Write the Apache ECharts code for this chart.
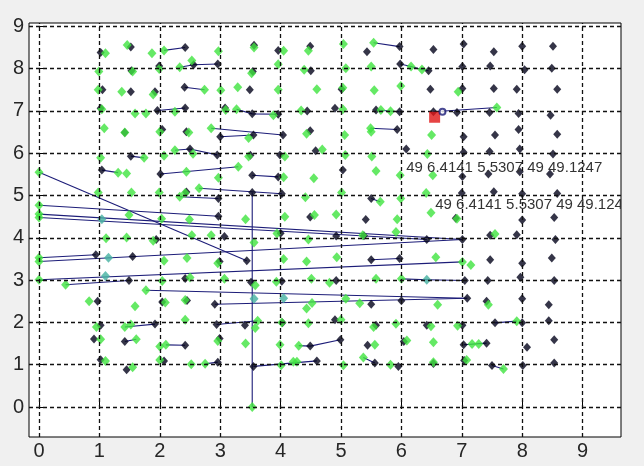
<!DOCTYPE html>
<html><head><meta charset="utf-8">
<script src="https://cdn.jsdelivr.net/npm/echarts@6/dist/echarts.min.js"></script>
<style>html,body{margin:0;padding:0;background:#f0f0f0;}#c{width:644px;height:466px;}</style>
</head><body><div id="c"></div>
<script>
var xTicks = [0,1,2,3,4,5,6,7,8,9];
var yTicks = [0,1,2,3,4,5,6,7,8,9];

var blackPoints = [
 [1.02,8.38],[1.52,8.51],[2.42,8.50],[3.56,8.55],[3.96,8.43],[4.49,8.53],[5.43,8.40],[5.97,8.52],[6.53,8.45],[7.03,8.58],[7.53,8.40],[8.0,8.53],[8.51,8.53],
 [1.53,7.95],[1.99,8.06],[2.56,8.09],[2.96,8.11],[3.54,7.93],[4.50,7.95],[5.98,8.11],[6.45,7.95],[7.01,8.05],[7.47,8.06],[8.04,7.97],[8.49,8.01],
 [1.05,7.50],[1.52,7.45],[1.92,7.45],[2.41,7.56],[3.49,7.50],[5.01,7.51],[6.48,7.51],[7.01,7.53],[7.53,7.53],[7.91,7.51],[8.58,7.51],
 [1.02,7.06],[1.96,7.01],[2.42,7.07],[3.08,7.07],[3.53,6.93],[3.96,6.92],[4.44,7.00],[4.90,7.06],[5.58,7.02],[5.97,6.98],[6.53,6.98],[6.92,6.96],[7.46,6.96],[7.94,6.94],[8.47,6.90],
 [1.42,6.49],[2.04,6.56],[2.44,6.51],[3.0,6.39],[3.55,6.43],[4.04,6.43],[4.49,6.53],[5.93,6.56],[7.03,6.39],[7.55,6.43],[7.94,6.56],[8.58,6.45],
 [1.52,5.93],[2.50,6.10],[2.95,5.96],[3.50,5.95],[3.99,5.96],[4.58,6.06],[6.08,6.10],[7.03,6.02],[7.46,6.04],[7.96,6.10],[8.51,5.98],
 [1.04,5.60],[2.01,5.51],[3.53,5.48],[3.96,5.44],[5.03,5.60],[7.01,5.45],[7.44,5.51],[7.96,5.56],[8.46,5.51],
 [2.44,5.08],[2.97,4.93],[3.53,5.07],[4.02,5.04],[5.50,4.93],[7.0,5.06],[7.53,5.09],[8.0,5.04],[8.58,5.05],
 [2.97,4.51],[4.49,4.49],[5.41,4.43],[6.90,4.46],[8.0,4.42],[8.53,4.48],
 [1.94,3.96],[3.07,4.03],[4.0,4.11],[4.92,4.04],[5.38,4.05],[6.42,3.96],[7.01,3.96],[7.47,4.06],[7.91,4.07],[8.55,3.96],
 [0.94,3.60],[1.55,3.56],[2.99,3.44],[3.44,3.46],[5.50,3.48],[5.97,3.51],[7.47,3.48],[8.0,3.40],[8.49,3.52],
 [1.49,2.99],[2.42,3.04],[3.51,2.95],[4.02,2.97],[4.92,2.99],[7.05,2.99],[7.43,2.99],[7.97,3.07],[8.53,2.99],
 [0.97,2.50],[2.04,2.48],[2.45,2.52],[2.91,2.43],[5.50,2.43],[6.0,2.51],[7.09,2.57],[7.41,2.50],[8.0,2.56],[8.44,2.42],
 [1.02,1.93],[1.92,1.96],[2.94,1.95],[3.41,1.93],[4.03,1.99],[4.90,2.06],[5.58,1.93],[6.42,1.93],[7.01,1.93],[7.55,1.99],[8.0,1.99],[8.44,2.04],
 [0.91,1.61],[1.42,1.55],[2.42,1.46],[2.99,1.62],[4.49,1.44],[4.99,1.59],[5.44,1.46],[6.04,1.55],[7.03,1.47],[7.41,1.51],[8.08,1.41],[8.53,1.59],
 [1.02,1.12],[1.45,0.88],[2.07,1.09],[2.96,1.06],[3.55,0.96],[4.60,1.09],[5.56,1.04],[5.95,0.96],[6.53,1.03],[7.04,1.10],[7.50,0.98],[8.01,0.98],[8.53,1.04]
];

var greenPoints = [
 [1.10,8.36],[1.46,8.56],[1.87,8.36],[2.07,8.43],[2.97,8.41],[3.56,8.50],[4.05,8.42],[4.46,8.42],[5.04,8.58],[5.54,8.61],
 [0.99,7.93],[1.55,7.93],[1.99,7.99],[2.33,8.03],[2.53,8.19],[3.52,7.89],[3.96,8.10],[4.39,7.97],[5.08,8.01],[5.50,8.05],[6.16,8.05],[6.34,7.98],
 [0.98,7.50],[1.37,7.45],[1.89,7.39],[2.74,7.50],[3.01,7.49],[3.29,7.56],[3.96,7.50],[4.60,7.51],[5.03,7.55],[5.55,7.49],[5.99,7.59],[6.94,7.45],
 [1.04,7.04],[1.59,6.94],[1.77,6.94],[2.25,6.98],[3.09,7.02],[3.27,7.04],[3.88,6.90],[4.34,7.01],[5.03,7.04],[5.66,7.02],[5.82,6.99],[7.58,7.08],
 [1.08,6.59],[1.42,6.49],[2.0,6.51],[2.48,6.49],[2.85,6.59],[3.47,6.36],[4.43,6.46],[5.06,6.43],[5.49,6.59],[5.50,6.51],[6.50,6.43],
 [1.02,5.89],[1.74,5.89],[2.07,5.94],[2.25,6.07],[2.55,5.99],[3.47,5.92],[4.07,5.92],[4.69,6.09],[5.07,5.96],[5.51,5.92],[6.43,5.98],
 [0,5.55],[1.31,5.54],[1.45,5.52],[2.44,5.56],[2.97,5.42],[3.30,5.68],[4.05,5.43],[4.55,5.41],[5.58,5.58],[5.98,5.48],[6.52,5.48],
 [0.98,5.07],[1.53,5.07],[1.99,5.07],[2.33,4.97],[2.42,5.06],[2.65,5.17],[4.41,4.96],[5.01,5.07],[5.65,4.85],[5.99,4.93],[6.41,5.06],
 [0,4.77],[0,4.56],[0,4.48],[1.49,4.54],[2.03,4.45],[2.49,4.43],[3.42,4.44],[4.07,4.50],[4.56,4.54],[4.92,4.55],[5.93,4.44],[6.49,4.59],[6.92,4.45],
 [1.11,3.99],[1.45,4.01],[1.89,3.93],[2.53,4.06],[2.85,4.06],[3.56,3.89],[3.94,4.10],[4.46,3.96],[5.36,4.06],[5.91,4.14],[7.55,4.09],
 [0,3.53],[0,3.44],[2.07,3.46],[2.45,3.52],[2.96,3.40],[4.05,3.50],[4.43,3.44],[4.93,3.54],[6.57,3.54],[7.01,3.43],[7.15,3.36],
 [0,3.01],[0.44,2.89],[2.04,2.98],[2.50,3.06],[3.07,3.03],[3.58,2.88],[3.93,2.96],[4.51,3.03],[4.81,2.94],[5.58,3.03],[6.0,3.03],
 [0.83,2.50],[1.59,2.38],[1.77,2.76],[2.09,2.47],[2.42,2.53],[4.43,2.33],[4.52,2.46],[5.08,2.56],[5.31,2.45],[6.60,2.42],[7.44,2.42],
 [0.95,1.89],[1.42,1.89],[1.52,1.95],[2.42,2.06],[3.62,2.04],[3.58,1.87],[4.02,2.0],[4.46,1.98],[5.0,2.06],[5.54,1.89],[5.91,1.97],[6.49,1.91],[6.93,1.92],[7.91,2.03],
 [1.02,1.60],[1.61,1.60],[2.0,1.43],[2.10,1.47],[2.96,1.56],[3.42,1.50],[3.99,1.47],[4.30,1.45],[5.56,1.47],[6.09,1.57],[6.53,1.53],[7.17,1.49],[7.28,1.49],
 [1.10,1.09],[1.55,0.94],[2.0,1.11],[2.52,1.01],[2.75,1.02],[4.01,0.99],[4.21,1.07],[4.27,1.07],[5.04,0.99],[5.37,1.17],[5.82,1.0],[6.53,1.06],[7.08,1.11],[7.69,0.90],
 [3.53,0.0]
];

var tealPoints = [[1.04,4.44],[1.15,3.53],[1.10,3.10],[3.56,2.56],[4.05,2.57],[6.42,3.01]];

var links = [
 [[2.07,8.43],[2.42,8.50]],
 [[5.54,8.61],[5.97,8.52]],
 [[2.33,8.03],[2.56,8.09],[2.96,8.11]],
 [[5.98,8.11],[6.16,8.05],[6.34,7.98],[6.45,7.95]],
 [[2.41,7.56],[2.74,7.50]],
 [[1.96,7.01],[2.42,7.07]],
 [[3.27,7.04],[3.53,6.93],[3.96,6.92]],
 [[5.58,7.02],[5.97,6.98]],
 [[6.53,6.98],[7.58,7.08]],
 [[2.85,6.59],[4.04,6.43]],
 [[3.0,6.39],[3.55,6.43]],
 [[5.49,6.59],[5.93,6.56]],
 [[2.25,6.07],[2.50,6.10],[2.95,5.96]],
 [[1.52,5.93],[1.74,5.89]],
 [[1.04,5.60],[1.31,5.54]],
 [[2.01,5.51],[3.30,5.68]],
 [[3.53,5.48],[3.96,5.44]],
 [[2.33,4.97],[2.97,4.93]],
 [[2.65,5.17],[4.02,5.04]],
 [[5.50,4.93],[5.65,4.85]],
 [[3.53,5.07],[3.53,0.0]],
 [[0,5.55],[3.44,3.46]],
 [[0,4.77],[2.97,4.51]],
 [[0,4.56],[7.01,3.96]],
 [[0,4.48],[6.42,3.96]],
 [[0,3.53],[0.94,3.60]],
 [[0,3.44],[7.01,3.96]],
 [[0,3.01],[7.01,3.43]],
 [[5.50,3.48],[5.97,3.51]],
 [[0.44,2.89],[1.49,2.99]],
 [[1.77,2.76],[7.09,2.57]],
 [[2.91,2.43],[7.09,2.57]],
 [[6.0,3.03],[6.42,3.01],[7.05,2.99]],
 [[1.42,1.89],[1.92,1.96]],
 [[2.94,1.95],[3.62,2.04]],
 [[7.55,1.99],[7.91,2.03]],
 [[1.42,1.55],[1.61,1.60]],
 [[2.10,1.47],[2.42,1.46]],
 [[4.30,1.45],[4.49,1.44],[4.99,1.59]],
 [[7.03,1.47],[7.41,1.51]],
 [[2.75,1.02],[2.96,1.06]],
 [[3.55,0.96],[4.60,1.09]],
 [[5.37,1.17],[5.56,1.04]],
 [[7.50,0.98],[7.69,0.90]]
];

var redPoint = [[6.55,6.85]];
var circlePoint = [[6.68,6.98]];

var textLabels = ['49 6.4141 5.5307 49 49.1247', '49 6.4141 5.5307 49 49.1247'];
var textX = [6.08, 6.56];
var textY = [5.66, 4.78];

var chart = echarts.init(document.getElementById('c'), null, {renderer: 'canvas'});
var gridLines = [];
xTicks.forEach(function(v){ gridLines.push({xAxis: v}); });
yTicks.forEach(function(v){ gridLines.push({yAxis: v}); });

var textData = textLabels.map(function(t, i){ return [textX[i], textY[i], t]; });

chart.setOption({
  backgroundColor: '#f0f0f0',
  animation: false,
  grid: {left: 29, top: 23, width: 592, height: 414, show: true, backgroundColor: '#ffffff', borderColor: '#000', borderWidth: 1},
  xAxis: {
    type: 'value', min: -0.166, max: 9.636,
    axisLine: {show: false},
    axisTick: {show: true, inside: true, length: 5, customValues: xTicks, lineStyle: {color: '#000'}},
    axisLabel: {customValues: xTicks, color: '#262626', fontFamily: 'Liberation Sans, Arial, sans-serif', fontSize: 20, margin: 4},
    splitLine: {show: false}
  },
  yAxis: {
    type: 'value', min: -0.709, max: 9.078,
    axisLine: {show: false},
    axisTick: {show: true, inside: true, length: 5, customValues: yTicks, lineStyle: {color: '#000'}},
    axisLabel: {customValues: yTicks, color: '#262626', fontFamily: 'Liberation Sans, Arial, sans-serif', fontSize: 20, margin: 5},
    splitLine: {show: false}
  },
  series: [
    {type: 'scatter', data: [], silent: true, z: 1,
     markLine: {silent: true, symbol: 'none', label: {show: false},
       lineStyle: {color: '#111', type: [4, 3], width: 1.3}, data: gridLines}},
    {type: 'lines', coordinateSystem: 'cartesian2d', polyline: true, z: 2, silent: true,
     lineStyle: {color: '#1c1c78', width: 1.1, opacity: 1},
     data: links.map(function(c){ return {coords: c}; })},
    {type: 'scatter', data: blackPoints, symbol: 'diamond', symbolSize: [8, 9], z: 3,
     itemStyle: {color: '#03031a'}},
    {type: 'scatter', data: greenPoints, symbol: 'diamond', symbolSize: [9, 10], z: 4,
     itemStyle: {color: '#3ee33e'}},
    {type: 'scatter', data: tealPoints, symbol: 'diamond', symbolSize: [9, 10], z: 4,
     itemStyle: {color: '#44b0a0'}},
    {type: 'scatter', data: redPoint, symbol: 'rect', symbolSize: 11, z: 5,
     itemStyle: {color: '#e01515'}},
    {type: 'scatter', data: circlePoint, symbol: 'emptyCircle', symbolSize: 6, z: 5,
     itemStyle: {color: '#1c1c78', borderWidth: 1}},
    {type: 'custom', coordinateSystem: 'cartesian2d', clip: true, z: 6, data: textData,
     renderItem: function(params, api){
       var p = api.coord([api.value(0), api.value(1)]);
       return {type: 'text', x: p[0], y: p[1],
         style: {text: textData[params.dataIndex][2], fill: '#333', font: '15px "Liberation Sans", Arial, sans-serif',
                 align: 'left', verticalAlign: 'middle'}};
     }}
  ]
});
</script></body></html>
